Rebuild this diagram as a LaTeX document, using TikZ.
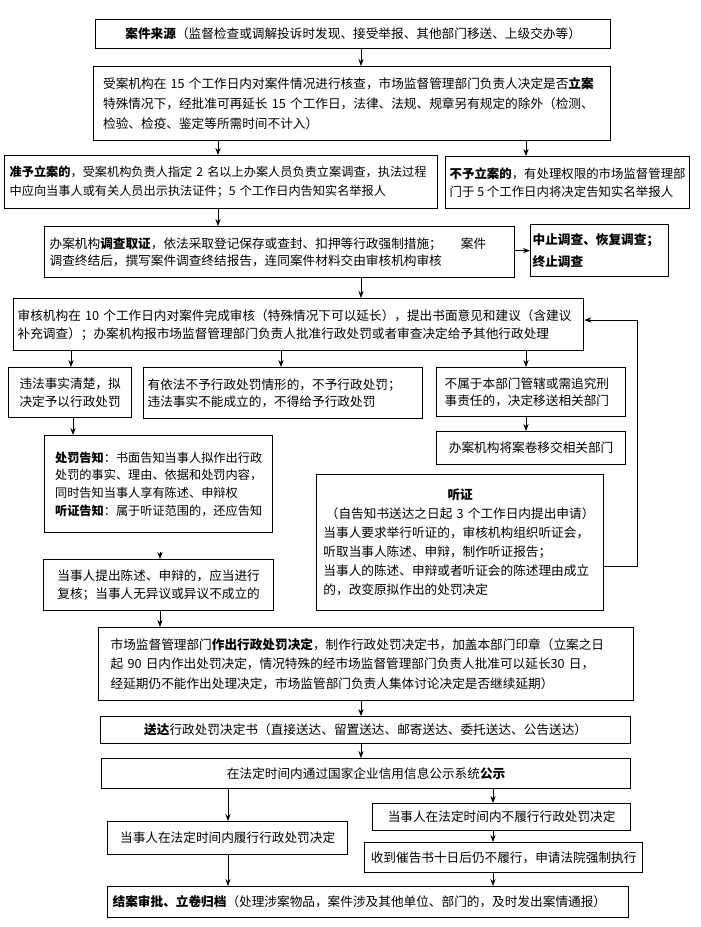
\documentclass[tikz,border=0pt]{standalone}
\usepackage{fontspec}
\setmainfont{Noto Sans CJK SC}
\usepackage{tikz}
\usetikzlibrary{arrows.meta}

\begin{document}
\begin{tikzpicture}[
    x=0.03cm, y=-0.03cm,
    box/.style={rectangle, draw=black, line width=1.1pt, anchor=north west, inner sep=0pt, font=\fontsize{10.8pt}{15.3pt}\selectfont},
    cbox/.style={box, align=center},
    lbox/.style={box, align=left},
    arrow/.style={-{Stealth[length=6pt, width=4.5pt]}, line width=0.7pt, color=black}
]
    \useasboundingbox (0,0) rectangle (700,927);

    % main column
    \node (src) [cbox, minimum width=15.45cm, minimum height=0.87cm] at (95,19) {\textbf{案件来源}（监督检查或调解投诉时发现、接受举报、其他部门移送、上级交办等）};
    \node (chk) [lbox, minimum width=15.51cm, minimum height=2.22cm, text width=14.94cm, font=\fontsize{10.8pt}{17.4pt}\selectfont] at (93,66) {受案机构在~15~个工作日内对案件情况进行核查，市场监督管理部门负责人决定是否\textbf{立案}\\特殊情况下，经批准可再延长~15~个工作日，法律、法规、规章另有规定的除外（检测、\\检验、检疫、鉴定等所需时间不计入）};
    \node (lian) [lbox, minimum width=12.99cm, minimum height=1.59cm, text width=12.69cm, font=\fontsize{10.4pt}{16.2pt}\selectfont] at (4,155) {\textbf{准予立案的}，受案机构负责人指定~2~名以上办案人员负责立案调查，执法过程\\中应向当事人或有关人员出示执法证件；5~个工作日内告知实名举报人};
    \node (bulian) [lbox, minimum width=7.32cm, minimum height=1.56cm, font=\fontsize{10.6pt}{16.2pt}\selectfont] at (445,156) {\textbf{不予立案的}，有处理权限的市场监督管理部\\门于~5~个工作日内将决定告知实名举报人};
    \node (dc) [lbox, minimum width=14.1cm, minimum height=1.53cm, text width=13.8cm, font=\fontsize{10.8pt}{14.2pt}\selectfont] at (44,226) {办案机构\textbf{调查取证}，依法采取登记保存或查封、扣押等行政强制措施；\hspace{1.5em}案件\\调查终结后，撰写案件调查终结报告，连同案件材料交由审核机构审核};
    \node (zz) [lbox, minimum width=4.14cm, minimum height=1.56cm, text width=4.02cm, font=\fontsize{10.8pt}{18.4pt}\selectfont] at (530,224) {\textbf{中止调查、恢复调查；}\\\textbf{终止调查}};
    \node (sh) [lbox, minimum width=17.1cm, minimum height=1.56cm, text width=16.86cm] at (13,298) {审核机构在~10~个工作日内对案件完成审核（特殊情况下可以延长），提出书面意见和建议（含建议\\补充调查）；办案机构报市场监督管理部门负责人批准行政处罚或者审查决定给予其他行政处理};

    % three outcomes of the review
    \node (wf) [lbox, minimum width=3.69cm, minimum height=1.5cm] at (8,367) {违法事实清楚，拟\\决定予以行政处罚};
    \node (bcf) [lbox, minimum width=8.37cm, minimum height=1.53cm, text width=8.13cm, font=\fontsize{10.8pt}{14.2pt}\selectfont] at (143,367) {有依法不予行政处罚情形的，不予行政处罚；\\违法事实不能成立的，不得给予行政处罚};
    \node (ys) [lbox, minimum width=5.67cm, minimum height=1.47cm, text width=5.19cm, font=\fontsize{10.8pt}{14.2pt}\selectfont] at (436,367) {不属于本部门管辖或需追究刑\\事责任的，决定移送相关部门};
    \node (yj) [cbox, minimum width=5.67cm, minimum height=0.99cm] at (436,431) {办案机构将案卷移交相关部门};

    % notice and hearing
    \node (gz) [lbox, minimum width=6.84cm, minimum height=2.91cm, font=\fontsize{10.4pt}{15pt}\selectfont] at (44,435) {\textbf{处罚告知}：书面告知当事人拟作出行政\\处罚的事实、理由、依据和处罚内容，\\同时告知当事人享有陈述、申辩权\\\textbf{听证告知}：属于听证范围的，还应告知};
    \node (tz) [lbox, minimum width=8.61cm, minimum height=4.08cm, text width=8.2cm, font=\fontsize{10.8pt}{16.2pt}\selectfont] at (316,474) {\makebox[8.2cm]{\textbf{听证}}\\\makebox[8.2cm]{（自告知书送达之日起~3~个工作日内提出申请）}\\当事人要求举行听证的，审核机构组织听证会，\\听取当事人陈述、申辩，制作听证报告；\\当事人的陈述、申辩或者听证会的陈述理由成立\\的，改变原拟作出的处罚决定};
    \node (fh) [lbox, minimum width=6.9cm, minimum height=1.53cm, font=\fontsize{10.8pt}{16.2pt}\selectfont] at (43,559) {当事人提出陈述、申辩的，应当进行\\复核；当事人无异议或异议不成立的};

    % decision and closing
    \node (jd) [lbox, minimum width=16.05cm, minimum height=2.19cm, text width=15.33cm, font=\fontsize{10.8pt}{17pt}\selectfont] at (98,627) {市场监督管理部门\textbf{作出行政处罚决定}，制作行政处罚决定书，加盖本部门印章（立案之日\\起~90~日内作出处罚决定，情况特殊的经市场监督管理部门负责人批准可以延长30~日，\\经延期仍不能作出处理决定，市场监管部门负责人集体讨论决定是否继续延期）};
    \node (sd) [cbox, minimum width=15.9cm, minimum height=0.81cm] at (100,716) {\textbf{送达}行政处罚决定书（直接送达、留置送达、邮寄送达、委托送达、公告送达）};
    \node (gs) [cbox, minimum width=15.87cm, minimum height=0.9cm] at (101,758) {在法定时间内通过国家企业信用信息公示系统\textbf{公示}};
    \node (lx) [cbox, minimum width=7.2cm, minimum height=0.99cm] at (107,821) {当事人在法定时间内履行行政处罚决定};
    \node (blx) [cbox, minimum width=7.74cm, minimum height=0.81cm] at (372,803) {当事人在法定时间内不履行行政处罚决定};
    \node (qz) [cbox, minimum width=8.34cm, minimum height=0.9cm] at (364,842) {收到催告书十日后仍不履行，申请法院强制执行};
    \node (ja) [lbox, minimum width=15.63cm, minimum height=0.93cm, text width=15.33cm] at (107,886) {\textbf{结案审批、立卷归档}（处理涉案物品，案件涉及其他单位、部门的，及时发出案情通报）};

    % columns of the connectors
    \coordinate (xa) at (361,0);
    \coordinate (xb) at (218,0);
    \coordinate (xc) at (526,0);
    \coordinate (xd) at (71,0);
    \coordinate (xe) at (281,0);
    \coordinate (xf) at (73,0);
    \coordinate (xg) at (160,0);
    \coordinate (xh) at (228,0);
    \coordinate (xi) at (493,0);
    \coordinate (fb1) at (637,566);
    \coordinate (fb2) at (637,320);

    \draw [arrow] (src.south -| xa) -- (chk.north -| xa);
    \draw [arrow] (chk.south -| xb) -- (lian.north -| xb);
    \draw [arrow] (chk.south -| xc) -- (bulian.north -| xc);
    \draw [arrow] (lian.south -| xb) -- (dc.north -| xb);
    \draw [arrow] (dc.east |- zz.west) -- (zz.west);
    \draw [arrow] (dc.south -| xa) -- (sh.north -| xa);
    \draw [arrow] (sh.south -| xd) -- (wf.north -| xd);
    \draw [arrow] (sh.south -| xe) -- (bcf.north -| xe);
    \draw [arrow] (sh.south -| xc) -- (ys.north -| xc);
    \draw [arrow] (ys.south -| xc) -- (yj.north -| xc);
    \draw [arrow] (wf.south -| xf) -- (gz.north -| xf);
    \draw [arrow, shorten <=0.55cm] (gz.south -| xg) -- (fh.north -| xg);
    \draw [arrow] (fh.south -| xg) -- (jd.north -| xg);
    \draw [arrow] (tz.east |- fb1) -- (fb1) -- (fb2) -- (sh.east |- fb2);
    \draw [arrow] (jd.south -| xa) -- (sd.north -| xa);
    \draw [arrow] (sd.south -| xa) -- (gs.north -| xa);
    \draw [arrow] (gs.south -| xh) -- (lx.north -| xh);
    \draw [arrow] (gs.south -| xi) -- (blx.north -| xi);
    \draw [arrow] (blx.south -| xi) -- (qz.north -| xi);
    \draw [arrow] (lx.south -| xh) -- (ja.north -| xh);
    \draw [arrow] (qz.south -| xi) -- (ja.north -| xi);
\end{tikzpicture}
\end{document}
